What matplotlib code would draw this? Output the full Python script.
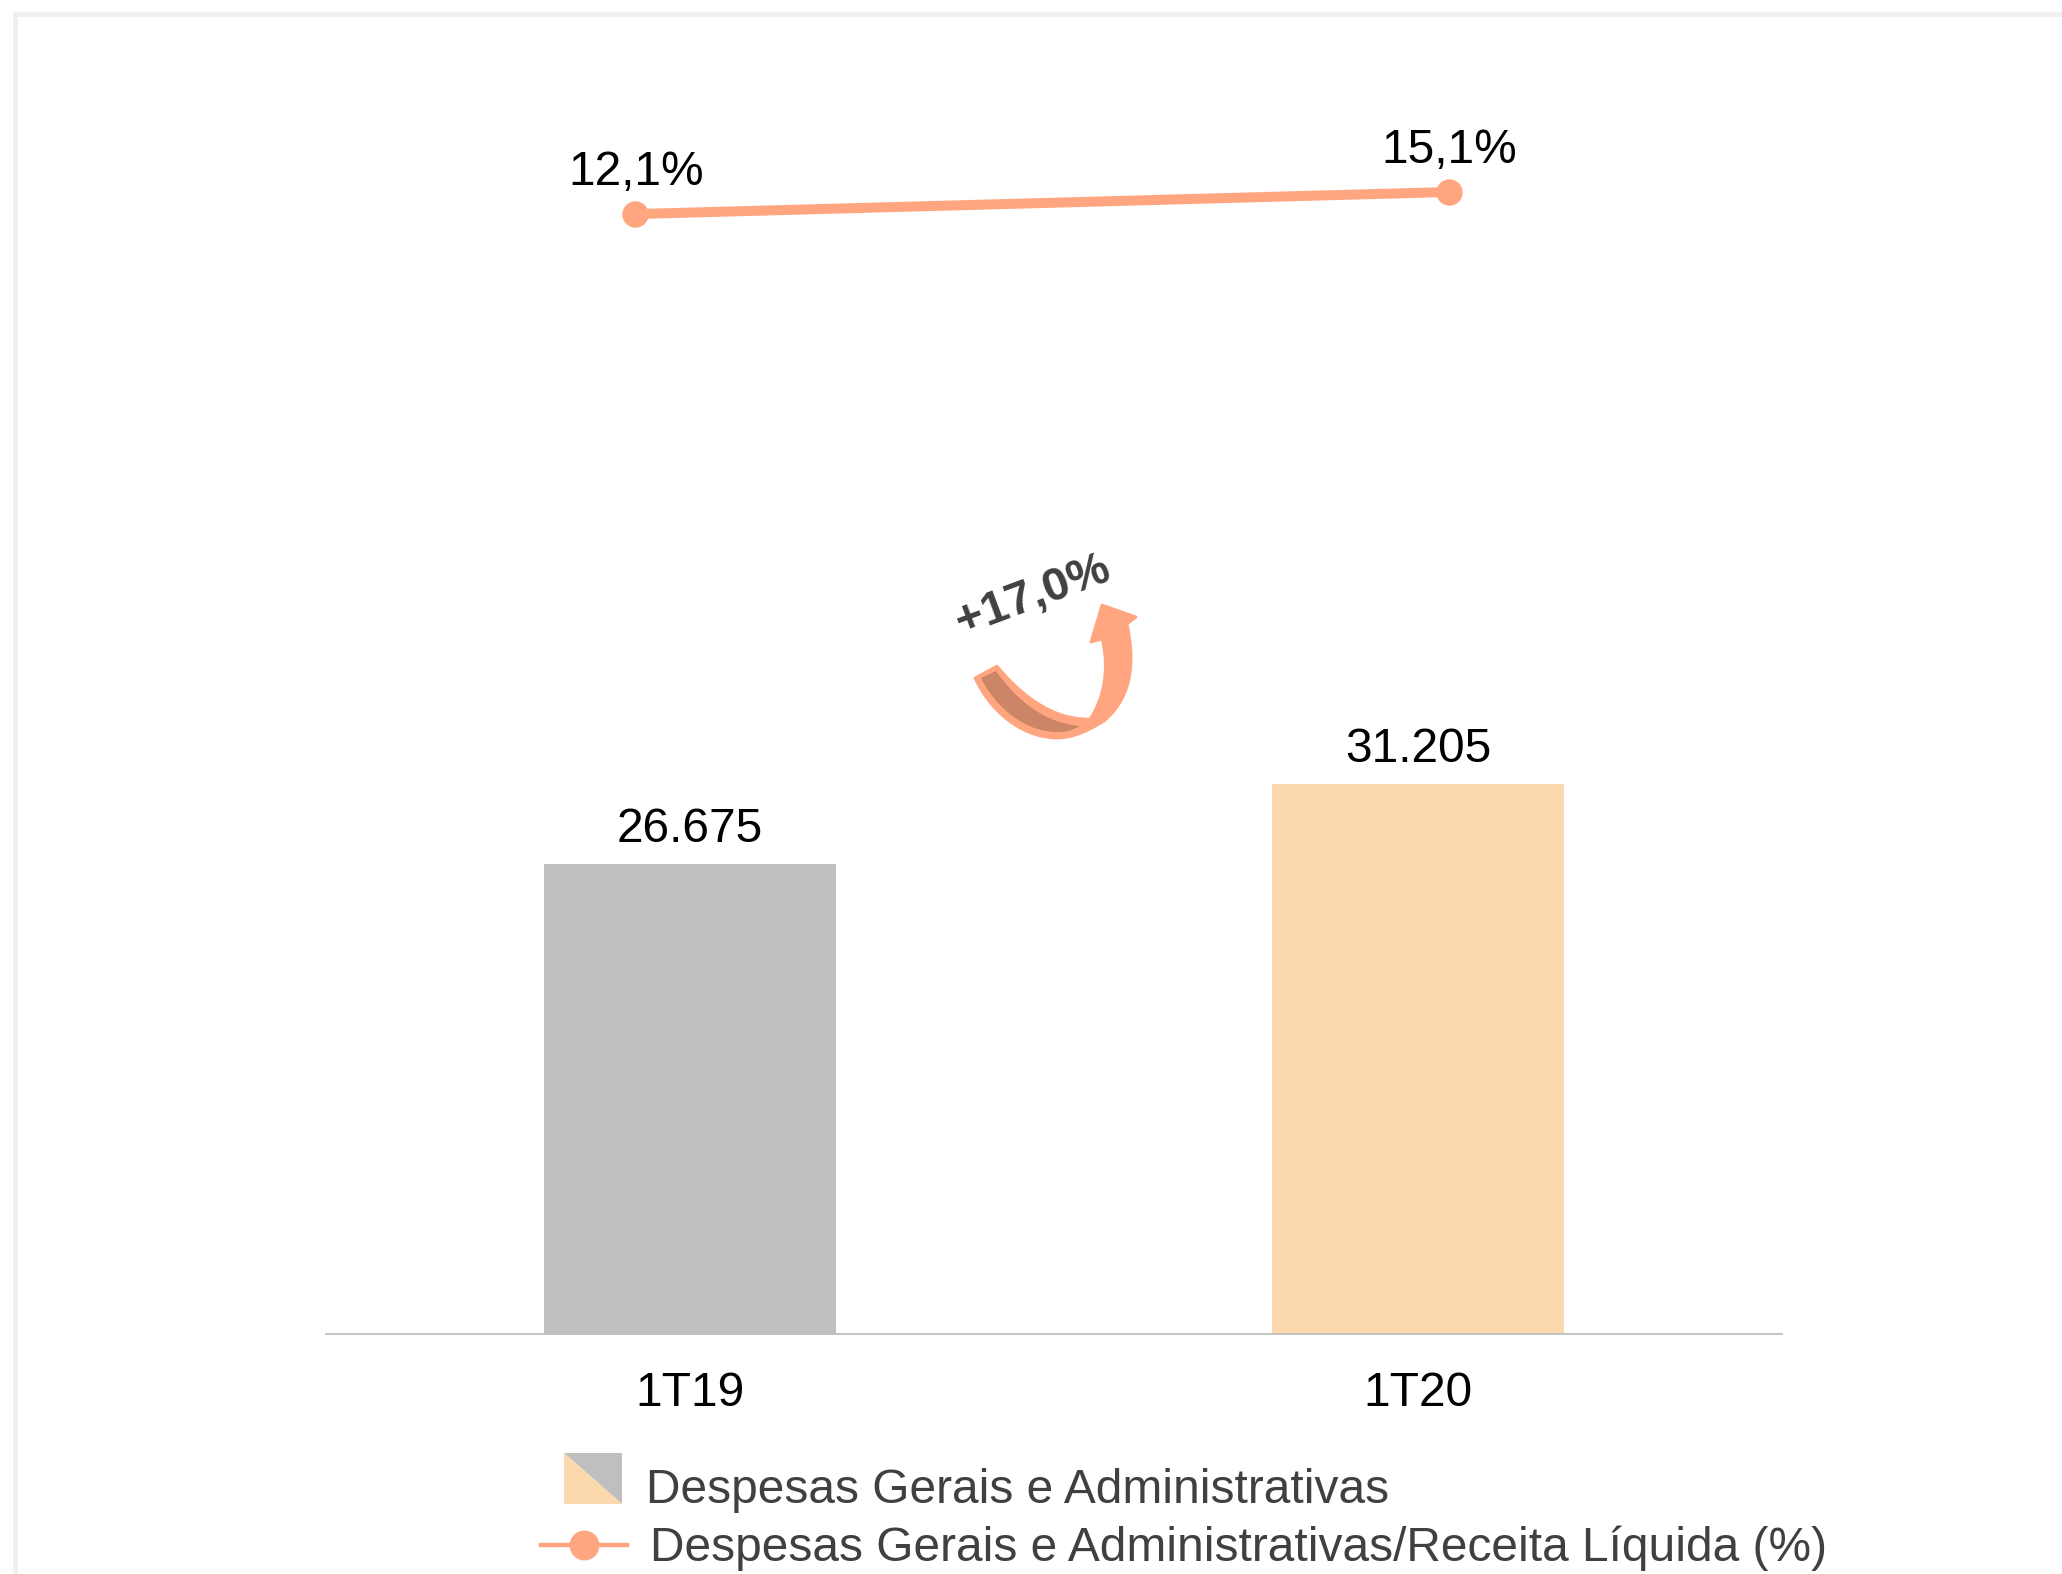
import matplotlib
matplotlib.use('Agg')
import matplotlib.pyplot as plt
from matplotlib.patches import PathPatch, Polygon, Rectangle
from matplotlib.path import Path

W, H = 2062, 1574

periods = ['1T19', '1T20']
despesas = [26675, 31205]
despesas_labels = ['26.675', '31.205']
ratio = [12.1, 15.1]
ratio_labels = ['12,1%', '15,1%']
growth_label = '+17,0%'
legend_labels = ['Despesas Gerais e Administrativas',
                 'Despesas Gerais e Administrativas/Receita Líquida (%)']

GREY = '#BFBFBF'
PEACH = '#FCD9AC'
ORANGE = '#FFA680'
DARK = '#404040'

plt.rcParams['font.family'] = ['Liberation Sans', 'DejaVu Sans']


def axes_px(fig, left, top, right, bottom):
    # pixel box (y going down) to figure fractions
    return fig.add_axes([left / W, 1 - bottom / H, (right - left) / W, (bottom - top) / H])


fig = plt.figure(figsize=(W / 100, H / 100), dpi=100, facecolor='white')

# bars
ax = axes_px(fig, 326, 700, 1782, 1334)
x = range(len(periods))
ax.bar(x, despesas, width=0.4, color=[GREY, PEACH])
ax.set_xlim(-0.5, 1.5)
ax.set_ylim(0, 36000)
ax.set_xticks(list(x))
ax.set_xticklabels(periods, fontsize=34.5, color='black')
ax.tick_params(axis='x', length=0, pad=27)
ax.set_yticks([])
for s in ['top', 'left', 'right']:
    ax.spines[s].set_visible(False)
ax.spines['bottom'].set_color(GREY)
ax.spines['bottom'].set_linewidth(1.3)
ax.patch.set_alpha(0)
for i, v in enumerate(despesas):
    ax.annotate(despesas_labels[i], (i, v), xytext=(0, 16), textcoords='offset points',
                ha='center', va='baseline', fontsize=34.5, color='black')

# ratio line, on its own axes since the points don't line up with the bars
ax2 = axes_px(fig, 228, 156, 1856, 303)
ax2.plot(x, ratio, color=ORANGE, lw=7.2, marker='o', ms=19, mew=0, solid_capstyle='round')
ax2.set_xlim(-0.5, 1.5)
ax2.set_ylim(0, 20)
ax2.axis('off')
for i, v in enumerate(ratio):
    ax2.annotate(ratio_labels[i], (i, v), xytext=(0.5, 21), textcoords='offset points',
                 ha='center', va='baseline', fontsize=34.5, color='black')

# overlay in pixels for frame, arrow and legend
ov = fig.add_axes([0, 0, 1, 1])
ov.set_xlim(0, W)
ov.set_ylim(H, 0)
ov.axis('off')
ov.patch.set_alpha(0)

ov.add_patch(Rectangle((13, 12), 5, H, color='#F0F0F0', lw=0))
ov.add_patch(Rectangle((13, 12), W, 5, color='#F0F0F0', lw=0))

# curved arrow
M, L, C, Z = Path.MOVETO, Path.LINETO, Path.CURVE4, Path.CLOSEPOLY
arrow_pts = [(975, 678), (997, 666),
             (1033, 710), (1067, 720), (1090, 719),
             (1103, 700), (1110, 670), (1102, 639),
             (1091, 642), (1102, 605), (1136, 617), (1127, 624),
             (1135, 660), (1133, 697), (1104, 721),
             (1088, 731), (1073, 738), (1057, 738),
             (1027, 738), (993, 717), (975, 678), (975, 678)]
arrow_codes = [M, L, C, C, C, C, C, C, L, L, L, L, C, C, C, C, C, C, C, C, C, Z]
ov.add_patch(PathPatch(Path(arrow_pts, arrow_codes), fc=ORANGE, ec=ORANGE, lw=2, joinstyle='round'))
inner_pts = [(981, 678), (996, 671),
             (1015, 698), (1043, 723), (1080, 726),
             (1070, 732), (1063, 732), (1057, 732),
             (1027, 732), (997, 710), (981, 678), (981, 678)]
inner_codes = [M, L, C, C, C, C, C, C, C, C, C, Z]
ov.add_patch(PathPatch(Path(inner_pts, inner_codes), fc='#CC8566', ec='none'))
ov.text(1033, 596, growth_label, rotation=20.5, rotation_mode='anchor', ha='center', va='center',
        fontsize=34, fontweight='bold', color=DARK)

# legend
ov.add_patch(Polygon([(564, 1453), (622, 1453), (622, 1504)], fc=GREY, ec='none'))
ov.add_patch(Polygon([(564, 1453), (622, 1504), (564, 1504)], fc=PEACH, ec='none'))
ov.plot([541, 627], [1545, 1545], color=ORANGE, lw=3.2)
ov.plot([584], [1545], color=ORANGE, marker='o', ms=21.5, mew=0)
ov.text(646, 1503, legend_labels[0], fontsize=34.5, color=DARK, ha='left', va='baseline')
ov.text(650, 1561, legend_labels[1], fontsize=34.5, color=DARK, ha='left', va='baseline')

fig.savefig('out.png', dpi=100)
